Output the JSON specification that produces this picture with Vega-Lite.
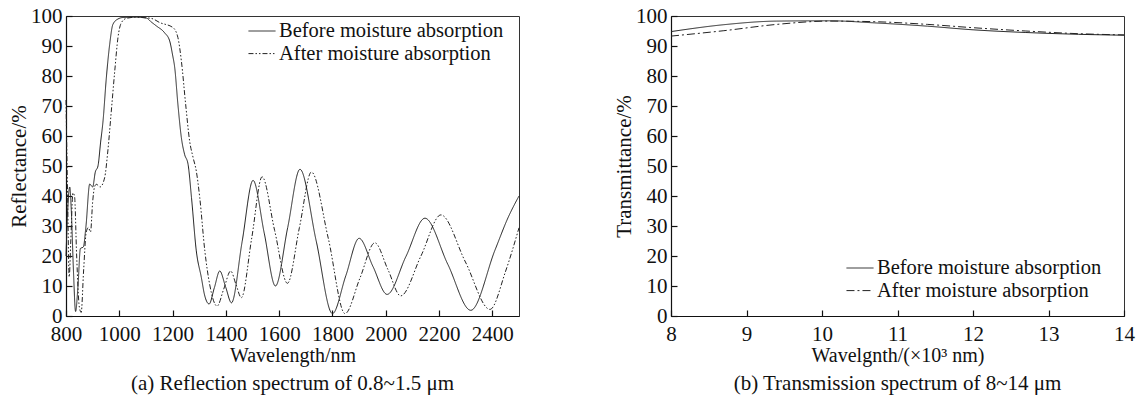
{
  "$schema": "https://vega.github.io/schema/vega-lite/v6.json",
  "padding": {"left": 8, "top": 4, "right": 5, "bottom": 0},
  "background": "white",
  "datasets": {
    "refl": [
      {"wl": 800, "v": 20, "s": "Before moisture absorption"},
      {"wl": 808, "v": 38, "s": "Before moisture absorption"},
      {"wl": 814, "v": 43, "s": "Before moisture absorption"},
      {"wl": 820, "v": 35, "s": "Before moisture absorption"},
      {"wl": 828, "v": 15, "s": "Before moisture absorption"},
      {"wl": 836, "v": 1.5, "s": "Before moisture absorption"},
      {"wl": 845, "v": 10, "s": "Before moisture absorption"},
      {"wl": 854, "v": 22.5, "s": "Before moisture absorption"},
      {"wl": 865, "v": 23, "s": "Before moisture absorption"},
      {"wl": 875, "v": 30, "s": "Before moisture absorption"},
      {"wl": 889, "v": 44, "s": "Before moisture absorption"},
      {"wl": 900, "v": 43, "s": "Before moisture absorption"},
      {"wl": 910, "v": 48, "s": "Before moisture absorption"},
      {"wl": 920, "v": 50, "s": "Before moisture absorption"},
      {"wl": 930, "v": 58, "s": "Before moisture absorption"},
      {"wl": 939, "v": 65, "s": "Before moisture absorption"},
      {"wl": 951, "v": 79, "s": "Before moisture absorption"},
      {"wl": 964, "v": 90.6, "s": "Before moisture absorption"},
      {"wl": 976, "v": 97.2, "s": "Before moisture absorption"},
      {"wl": 995, "v": 99, "s": "Before moisture absorption"},
      {"wl": 1014, "v": 99.5, "s": "Before moisture absorption"},
      {"wl": 1060, "v": 99.6, "s": "Before moisture absorption"},
      {"wl": 1102, "v": 99.3, "s": "Before moisture absorption"},
      {"wl": 1120, "v": 98, "s": "Before moisture absorption"},
      {"wl": 1139, "v": 96.7, "s": "Before moisture absorption"},
      {"wl": 1170, "v": 94.4, "s": "Before moisture absorption"},
      {"wl": 1189, "v": 91.7, "s": "Before moisture absorption"},
      {"wl": 1200, "v": 87, "s": "Before moisture absorption"},
      {"wl": 1208, "v": 82.8, "s": "Before moisture absorption"},
      {"wl": 1220, "v": 70.5, "s": "Before moisture absorption"},
      {"wl": 1233, "v": 59.4, "s": "Before moisture absorption"},
      {"wl": 1245, "v": 53.9, "s": "Before moisture absorption"},
      {"wl": 1258, "v": 50.6, "s": "Before moisture absorption"},
      {"wl": 1271, "v": 39.4, "s": "Before moisture absorption"},
      {"wl": 1289, "v": 21.7, "s": "Before moisture absorption"},
      {"wl": 1308, "v": 12.8, "s": "Before moisture absorption"},
      {"wl": 1320, "v": 7, "s": "Before moisture absorption"},
      {"wl": 1337, "v": 4, "s": "Before moisture absorption"},
      {"wl": 1357, "v": 9.5, "s": "Before moisture absorption"},
      {"wl": 1377, "v": 15, "s": "Before moisture absorption"},
      {"wl": 1399, "v": 9.7, "s": "Before moisture absorption"},
      {"wl": 1421, "v": 4.4, "s": "Before moisture absorption"},
      {"wl": 1461, "v": 24.8, "s": "Before moisture absorption"},
      {"wl": 1502, "v": 45.2, "s": "Before moisture absorption"},
      {"wl": 1544, "v": 27.6, "s": "Before moisture absorption"},
      {"wl": 1586, "v": 10, "s": "Before moisture absorption"},
      {"wl": 1632, "v": 29.5, "s": "Before moisture absorption"},
      {"wl": 1678, "v": 48.9, "s": "Before moisture absorption"},
      {"wl": 1739, "v": 25, "s": "Before moisture absorption"},
      {"wl": 1800, "v": 0.8, "s": "Before moisture absorption"},
      {"wl": 1850, "v": 13.4, "s": "Before moisture absorption"},
      {"wl": 1900, "v": 25.9, "s": "Before moisture absorption"},
      {"wl": 1952, "v": 16.5, "s": "Before moisture absorption"},
      {"wl": 2005, "v": 7.2, "s": "Before moisture absorption"},
      {"wl": 2076, "v": 19.9, "s": "Before moisture absorption"},
      {"wl": 2147, "v": 32.6, "s": "Before moisture absorption"},
      {"wl": 2233, "v": 17.2, "s": "Before moisture absorption"},
      {"wl": 2319, "v": 1.9, "s": "Before moisture absorption"},
      {"wl": 2410, "v": 22, "s": "Before moisture absorption"},
      {"wl": 2460, "v": 33, "s": "Before moisture absorption"},
      {"wl": 2500, "v": 40, "s": "Before moisture absorption"},
      {"wl": 800, "v": 72, "s": "After moisture absorption"},
      {"wl": 806, "v": 40, "s": "After moisture absorption"},
      {"wl": 812, "v": 13, "s": "After moisture absorption"},
      {"wl": 818, "v": 25, "s": "After moisture absorption"},
      {"wl": 826, "v": 41, "s": "After moisture absorption"},
      {"wl": 832, "v": 40, "s": "After moisture absorption"},
      {"wl": 840, "v": 20, "s": "After moisture absorption"},
      {"wl": 850, "v": 3, "s": "After moisture absorption"},
      {"wl": 857, "v": 1.2, "s": "After moisture absorption"},
      {"wl": 866, "v": 15, "s": "After moisture absorption"},
      {"wl": 876, "v": 28, "s": "After moisture absorption"},
      {"wl": 884, "v": 29.5, "s": "After moisture absorption"},
      {"wl": 892, "v": 28, "s": "After moisture absorption"},
      {"wl": 900, "v": 38, "s": "After moisture absorption"},
      {"wl": 907, "v": 43, "s": "After moisture absorption"},
      {"wl": 914, "v": 43.9, "s": "After moisture absorption"},
      {"wl": 928, "v": 43, "s": "After moisture absorption"},
      {"wl": 945, "v": 46.1, "s": "After moisture absorption"},
      {"wl": 957, "v": 55, "s": "After moisture absorption"},
      {"wl": 970, "v": 68.3, "s": "After moisture absorption"},
      {"wl": 983, "v": 81.7, "s": "After moisture absorption"},
      {"wl": 995, "v": 92.8, "s": "After moisture absorption"},
      {"wl": 1008, "v": 97.8, "s": "After moisture absorption"},
      {"wl": 1026, "v": 99.2, "s": "After moisture absorption"},
      {"wl": 1060, "v": 99.6, "s": "After moisture absorption"},
      {"wl": 1120, "v": 99.2, "s": "After moisture absorption"},
      {"wl": 1152, "v": 97.8, "s": "After moisture absorption"},
      {"wl": 1202, "v": 96.1, "s": "After moisture absorption"},
      {"wl": 1220, "v": 92.8, "s": "After moisture absorption"},
      {"wl": 1233, "v": 85, "s": "After moisture absorption"},
      {"wl": 1249, "v": 70.6, "s": "After moisture absorption"},
      {"wl": 1264, "v": 58.3, "s": "After moisture absorption"},
      {"wl": 1277, "v": 52.8, "s": "After moisture absorption"},
      {"wl": 1289, "v": 48.3, "s": "After moisture absorption"},
      {"wl": 1302, "v": 39.4, "s": "After moisture absorption"},
      {"wl": 1321, "v": 21.7, "s": "After moisture absorption"},
      {"wl": 1339, "v": 10.6, "s": "After moisture absorption"},
      {"wl": 1367, "v": 3.3, "s": "After moisture absorption"},
      {"wl": 1392, "v": 9, "s": "After moisture absorption"},
      {"wl": 1418, "v": 15, "s": "After moisture absorption"},
      {"wl": 1438, "v": 10.5, "s": "After moisture absorption"},
      {"wl": 1458, "v": 6.1, "s": "After moisture absorption"},
      {"wl": 1497, "v": 26, "s": "After moisture absorption"},
      {"wl": 1536, "v": 46.4, "s": "After moisture absorption"},
      {"wl": 1583, "v": 28.5, "s": "After moisture absorption"},
      {"wl": 1631, "v": 10.9, "s": "After moisture absorption"},
      {"wl": 1676, "v": 29.5, "s": "After moisture absorption"},
      {"wl": 1721, "v": 48, "s": "After moisture absorption"},
      {"wl": 1784, "v": 26, "s": "After moisture absorption"},
      {"wl": 1847, "v": 0.8, "s": "After moisture absorption"},
      {"wl": 1903, "v": 12.6, "s": "After moisture absorption"},
      {"wl": 1959, "v": 24.4, "s": "After moisture absorption"},
      {"wl": 2008, "v": 15.5, "s": "After moisture absorption"},
      {"wl": 2056, "v": 6.7, "s": "After moisture absorption"},
      {"wl": 2132, "v": 20, "s": "After moisture absorption"},
      {"wl": 2207, "v": 33.7, "s": "After moisture absorption"},
      {"wl": 2299, "v": 18, "s": "After moisture absorption"},
      {"wl": 2391, "v": 2.2, "s": "After moisture absorption"},
      {"wl": 2450, "v": 15, "s": "After moisture absorption"},
      {"wl": 2500, "v": 29.4, "s": "After moisture absorption"}
    ],
    "trans": [
      {"wl": 8, "v": 94.8, "s": "Before moisture absorption"},
      {"wl": 8.7, "v": 97.1, "s": "Before moisture absorption"},
      {"wl": 9.4, "v": 98.3, "s": "Before moisture absorption"},
      {"wl": 10.1, "v": 98.4, "s": "Before moisture absorption"},
      {"wl": 10.7, "v": 97.7, "s": "Before moisture absorption"},
      {"wl": 11.4, "v": 96.6, "s": "Before moisture absorption"},
      {"wl": 12, "v": 95.4, "s": "Before moisture absorption"},
      {"wl": 12.7, "v": 94.5, "s": "Before moisture absorption"},
      {"wl": 13.4, "v": 93.9, "s": "Before moisture absorption"},
      {"wl": 14, "v": 93.6, "s": "Before moisture absorption"},
      {"wl": 8, "v": 93.3, "s": "After moisture absorption"},
      {"wl": 8.7, "v": 95.1, "s": "After moisture absorption"},
      {"wl": 9.4, "v": 97.2, "s": "After moisture absorption"},
      {"wl": 10.1, "v": 98.3, "s": "After moisture absorption"},
      {"wl": 10.7, "v": 98.1, "s": "After moisture absorption"},
      {"wl": 11.4, "v": 97.2, "s": "After moisture absorption"},
      {"wl": 12, "v": 96.1, "s": "After moisture absorption"},
      {"wl": 12.7, "v": 95, "s": "After moisture absorption"},
      {"wl": 13.4, "v": 94.1, "s": "After moisture absorption"},
      {"wl": 14, "v": 93.7, "s": "After moisture absorption"}
    ]
  },
  "spacing": 152,
  "bounds": "flush",
  "hconcat": [
    {
      "width": 453,
      "height": 300,
      "data": {"name": "refl"},
      "title": {"text": "(a) Reflection spectrum of 0.8~1.5 μm", "orient": "bottom", "offset": 8},
      "mark": {"type": "line", "interpolate": "monotone", "strokeWidth": 1, "color": "#222"},
      "encoding": {
        "x": {"field": "wl", "type": "quantitative", "scale": {"domain": [800, 2500], "nice": false, "zero": false},
              "axis": {"title": "Wavelength/nm", "titleFontSize": 20, "format": "d", "labelOverlap": false, "labelFlush": false, "values": [800, 1000, 1200, 1400, 1600, 1800, 2000, 2200, 2400], "labelPadding": 13, "titlePadding": 1}},
        "y": {"field": "v", "type": "quantitative", "scale": {"domain": [0, 100], "nice": false},
              "axis": {"title": "Reflectance/%", "labelOverlap": false, "labelFlush": false, "values": [0, 10, 20, 30, 40, 50, 60, 70, 80, 90, 100], "labelPadding": 10, "titlePadding": 1}},
        "strokeDash": {"field": "s", "type": "nominal",
              "scale": {"domain": ["Before moisture absorption", "After moisture absorption"], "range": [[1, 0], [5, 2, 1.5, 2, 1.5, 2]]},
              "legend": {"title": null, "orient": "none", "legendX": 185, "legendY": 4}}
      }
    },
    {
      "width": 453,
      "height": 300,
      "data": {"name": "trans"},
      "title": {"text": "(b) Transmission spectrum of 8~14 μm", "orient": "bottom", "offset": 8},
      "mark": {"type": "line", "interpolate": "monotone", "strokeWidth": 1, "color": "#222"},
      "encoding": {
        "x": {"field": "wl", "type": "quantitative", "scale": {"domain": [8, 14], "nice": false, "zero": false},
              "axis": {"title": "Wavelgnth/(×10³ nm)", "titleFontSize": 20, "format": "d", "labelOverlap": false, "labelFlush": false, "values": [8, 9, 10, 11, 12, 13, 14], "labelPadding": 13, "titlePadding": 1}},
        "y": {"field": "v", "type": "quantitative", "scale": {"domain": [0, 100], "nice": false},
              "axis": {"title": "Transmittance/%", "labelOverlap": false, "labelFlush": false, "values": [0, 10, 20, 30, 40, 50, 60, 70, 80, 90, 100], "labelPadding": 10, "titlePadding": 1}},
        "strokeDash": {"field": "s", "type": "nominal",
              "scale": {"domain": ["Before moisture absorption", "After moisture absorption"], "range": [[1, 0], [8, 3, 2, 3]]},
              "legend": {"title": null, "orient": "none", "legendX": 178, "legendY": 241}}
      }
    }
  ],
  "resolve": {"scale": {"strokeDash": "independent", "x": "independent", "y": "independent"}, "legend": {"strokeDash": "independent"}},
  "config": {
    "font": "Liberation Serif",
    "view": {"stroke": "#333", "strokeWidth": 1},
    "axis": {
      "labelFont": "Liberation Serif", "labelFontSize": 21, "labelColor": "#111",
      "titleFont": "Liberation Serif", "titleFontSize": 21, "titleFontWeight": "normal", "titleColor": "#111",
      "domainColor": "#111", "domainWidth": 1.2, "tickColor": "#111", "tickSize": -6, "tickWidth": 1.2, "grid": false
    },
    "legend": {
      "labelFont": "Liberation Serif", "labelFontSize": 20.5, "labelColor": "#111", "labelLimit": 400,
      "symbolType": "M-1.32,0H1.32", "symbolSize": 420, "symbolStrokeWidth": 1, "symbolStrokeColor": "#222",
      "labelOffset": 6, "rowPadding": 0.6, "padding": 0
    },
    "title": {"font": "Liberation Serif", "fontSize": 21, "fontWeight": "normal", "color": "#111"}
  }
}
